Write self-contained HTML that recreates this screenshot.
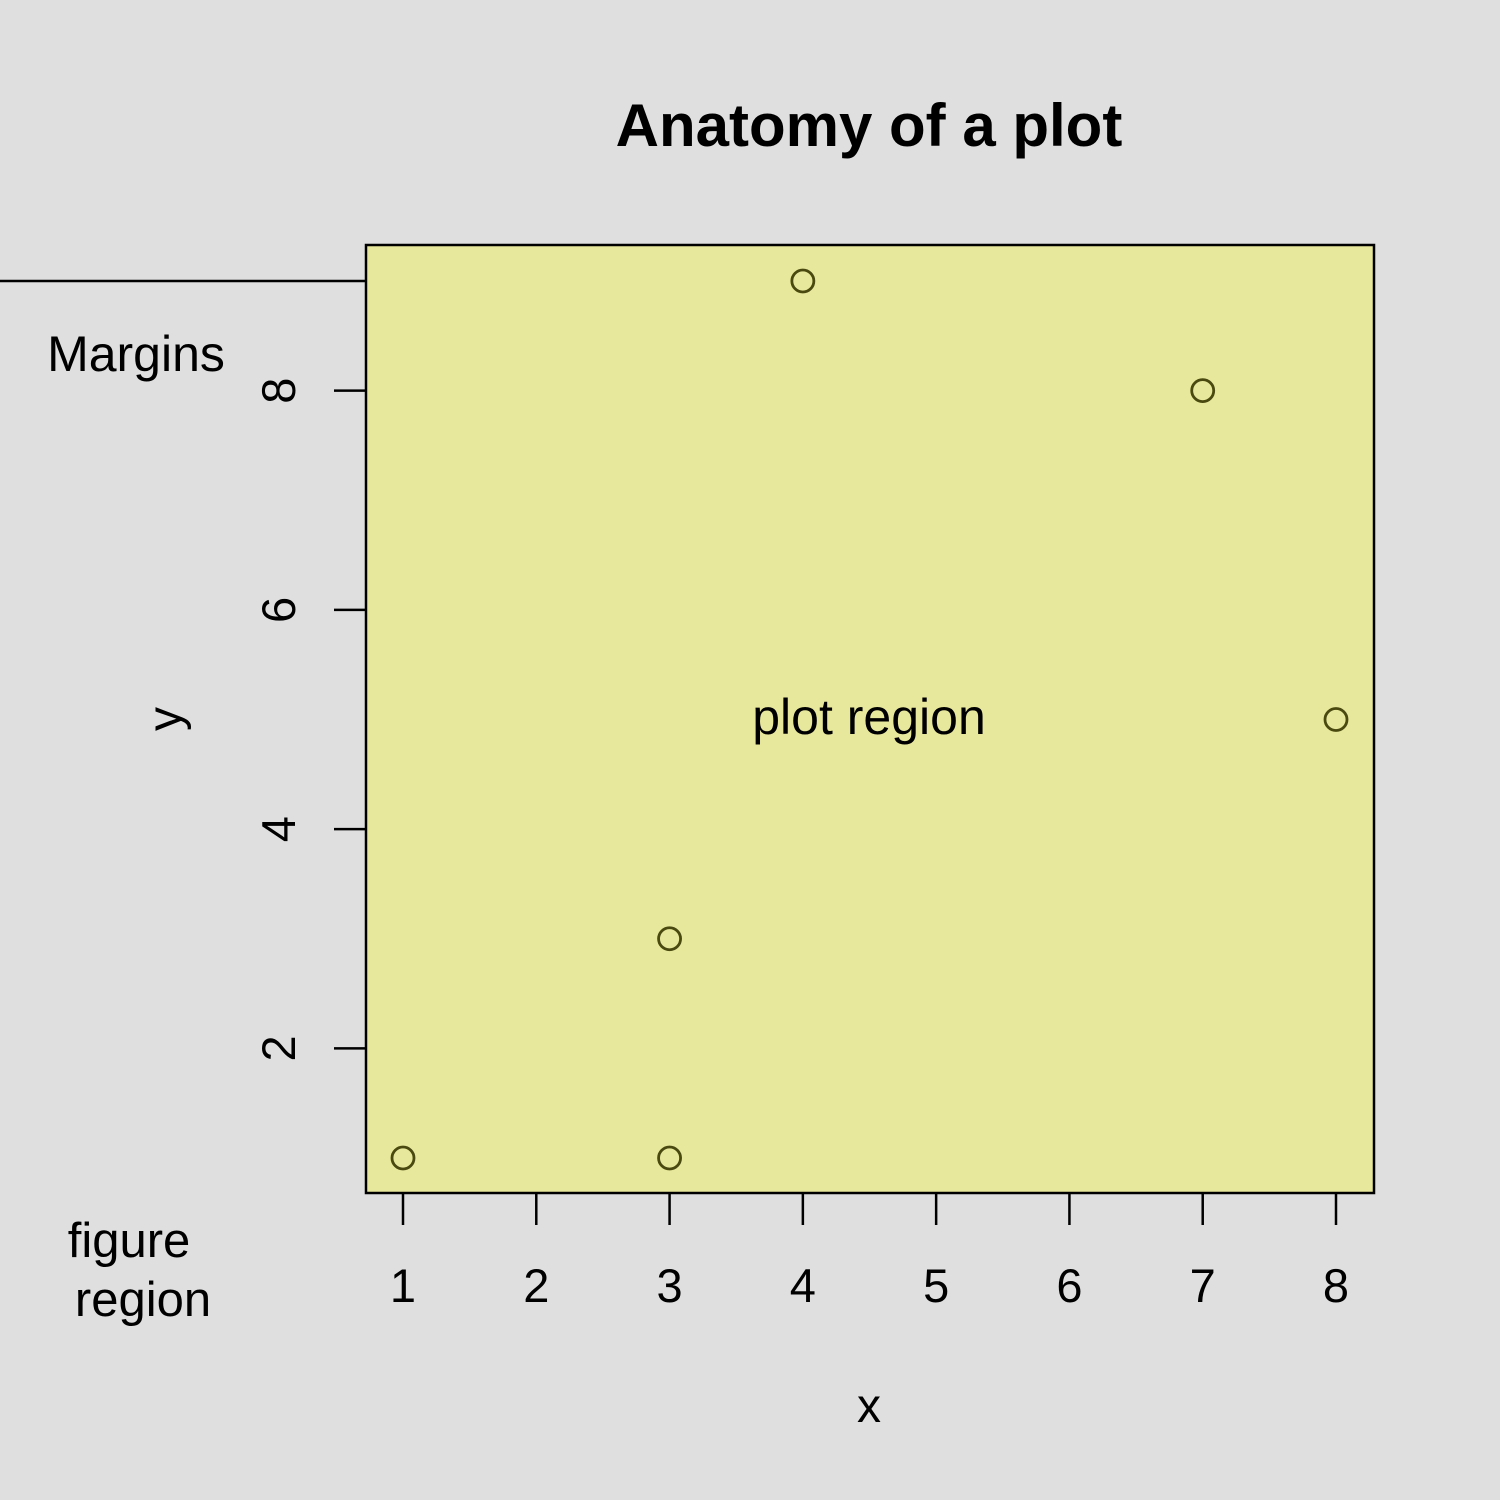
<!DOCTYPE html>
<html><head><meta charset="utf-8"><style>
html,body{margin:0;padding:0;background:#dfdfdf;overflow:hidden;width:1500px;height:1500px;}
svg{display:block;}
svg text{font-family:"Liberation Sans",Arial,sans-serif;fill:#000;}
</style></head><body>
<svg width="1500" height="1500" viewBox="0 0 1500 1500">
<rect x="0" y="0" width="1500" height="1500" fill="#dfdfdf"/>
<text x="869" y="146" font-size="60" font-weight="bold" text-anchor="middle">Anatomy of a plot</text>
<rect x="366" y="245" width="1008" height="948" fill="#e8e89c" stroke="#000" stroke-width="2.5"/>
<line x1="0" y1="281" x2="366" y2="281" stroke="#000" stroke-width="2.5"/>
<text x="136" y="371" font-size="50" text-anchor="middle">Margins</text>
<text x="129" y="1257" font-size="49" text-anchor="middle">figure</text>
<text x="143" y="1316" font-size="49" text-anchor="middle">region</text>
<text x="869" y="734" font-size="50" text-anchor="middle">plot region</text>
<text x="869" y="1422" font-size="48" text-anchor="middle">x</text>
<text transform="translate(181,719) rotate(-90)" font-size="48" text-anchor="middle">y</text>
<g id="axes"></g>
<g id="points"></g>
</svg>
<script>
const xTicks=[1,2,3,4,5,6,7,8];
const yTicks=[2,4,6,8];
const xs=[1,3,3,4,7,8];
const ys=[1,1,3,9,8,5];
const NS="http://www.w3.org/2000/svg";
function sx(v){return 403+(v-1)*(1336-403)/7;}
function sy(v){return 1158-(v-1)*(1158-281)/8;}
function mk(t,a,p){const e=document.createElementNS(NS,t);for(const k in a)e.setAttribute(k,a[k]);p.appendChild(e);return e;}
const ax=document.getElementById('axes');
xTicks.forEach(v=>{
 const l=mk('line',{x1:sx(v),x2:sx(v),y1:1193,y2:1225,stroke:'#000','stroke-width':2.5},ax);
 
 
 const t=mk('text',{x:sx(v),y:1302,'font-size':47,'text-anchor':'middle'},ax);
 t.textContent=v;
 
 
});
yTicks.forEach(v=>{
 const l=mk('line',{x1:334,x2:366,y1:sy(v),y2:sy(v),stroke:'#000','stroke-width':2.5},ax);
 
 
 const t=mk('text',{transform:`translate(295,${sy(v)}) rotate(-90)`,'font-size':47,'text-anchor':'middle'},ax);
 t.textContent=v;
 
 
});
const pg=document.getElementById('points');
xs.forEach((x,i)=>{
 const c=mk('circle',{cx:sx(x),cy:sy(ys[i]),r:11,fill:'none',stroke:'#4a4a10','stroke-width':2.8},pg);
 
 
});
</script>
</body></html>
